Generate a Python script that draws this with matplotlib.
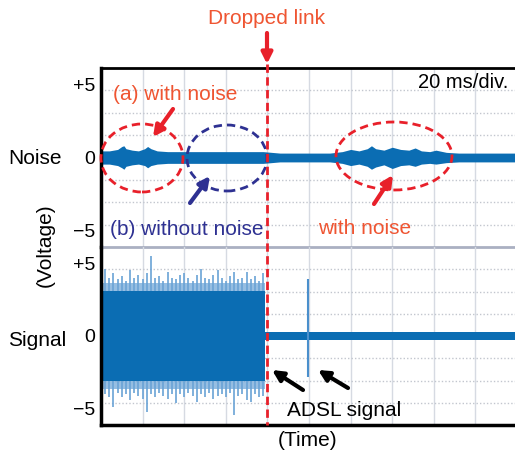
import matplotlib
matplotlib.use("Agg")
import matplotlib.pyplot as plt
from matplotlib.patches import Ellipse
from matplotlib.lines import Line2D
import numpy as np

plt.rcParams['font.family'] = ['Liberation Sans', 'DejaVu Sans']

### === Data (x in time divisions, y in volts) ===
drop_x = 3.95

# Noise channel envelope (half amplitude)
noise_x = [0.0, 0.2, 0.4, 0.5, 0.55, 0.6, 0.75, 0.9, 1.05, 1.12, 1.2, 1.35, 1.6, 2.0,
           2.5, 3.0, 3.5, 3.9, 4.3, 5.0, 5.5, 5.8, 6.0, 6.2, 6.4, 6.5, 6.6, 6.8, 7.0,
           7.2, 7.4, 7.55, 7.7, 7.9, 8.05, 8.3, 8.6, 9.0, 9.5, 9.95]
noise_hi = [0.45, 0.45, 0.55, 0.75, 0.8, 0.6, 0.5, 0.45, 0.6, 0.75, 0.6, 0.45, 0.4, 0.4,
            0.4, 0.4, 0.4, 0.4, 0.3, 0.3, 0.3, 0.4, 0.55, 0.45, 0.6, 0.8, 0.6, 0.5, 0.7,
            0.55, 0.5, 0.65, 0.45, 0.4, 0.5, 0.35, 0.3, 0.3, 0.3, 0.3]
noise_lo = [-0.45, -0.45, -0.55, -0.7, -0.8, -0.6, -0.5, -0.45, -0.55, -0.7, -0.55, -0.45,
            -0.4, -0.4, -0.4, -0.4, -0.4, -0.4, -0.3, -0.3, -0.3, -0.4, -0.55, -0.45,
            -0.6, -0.8, -0.65, -0.5, -0.75, -0.55, -0.5, -0.6, -0.45, -0.4, -0.45, -0.35,
            -0.3, -0.3, -0.3, -0.3]

# Signal channel: dense ADSL band before the drop, spike tips
tip_x = [0.0, 0.1, 0.2, 0.3, 0.4, 0.5, 0.6, 0.7, 0.8, 0.9, 1.0, 1.1, 1.2, 1.3, 1.4, 1.5,
         1.6, 1.7, 1.8, 1.9, 2.0, 2.1, 2.2, 2.3, 2.4, 2.5, 2.6, 2.7, 2.8, 2.9, 3.0, 3.1,
         3.2, 3.3, 3.4, 3.5, 3.6, 3.7, 3.8, 3.9]
tip_hi = [4.9, 4.6, 4.0, 4.3, 3.9, 4.1, 3.8, 4.5, 4.0, 4.2, 3.9, 4.3, 5.5, 4.0, 4.1, 3.8,
          4.4, 4.0, 3.9, 4.2, 4.3, 4.0, 3.8, 4.2, 4.6, 4.0, 3.9, 4.2, 4.5, 4.0, 3.8, 4.1,
          4.4, 3.9, 4.0, 4.4, 3.9, 4.1, 3.8, 4.3]
tip_lo = [-4.3, -4.0, -4.2, -4.9, -3.9, -4.2, -4.0, -4.4, -3.9, -4.1, -4.3, -5.2, -4.0,
          -4.2, -3.9, -4.1, -4.3, -4.0, -4.6, -4.0, -4.2, -3.9, -4.1, -4.5, -4.0, -4.2,
          -3.9, -4.3, -4.1, -4.0, -4.2, -3.9, -5.4, -4.1, -4.0, -4.4, -4.5, -4.0, -4.2,
          -4.1]
band_sig = 3.1
band_light = 3.6
after_band = 0.25
adsl_spike_x = 4.97
adsl_spike = (-2.8, 3.9)

### === Figure ===
W, H = 515, 457
fig = plt.figure(figsize=(W / 100, H / 100), dpi=100)

def fx(x):
    return x / W

def fy(y):
    return 1 - y / H

blue = "#0b6db3"
light = "#6aa3d6"
orange = "#ef5532"
red = "#e8202a"
navy = "#2e3192"

ylim = 6.1
xlim = 9.95
ax_n = fig.add_axes([fx(101), fy(247), fx(515) - fx(101), (247 - 68) / H])
ax_s = fig.add_axes([fx(101), fy(425), fx(515) - fx(101), (425 - 247) / H])

for ax in (ax_n, ax_s):
    ax.set_facecolor("none")
    ax.set_xlim(0, xlim)
    ax.set_ylim(-ylim, ylim)
    ax.set_xticks([])
    ax.set_yticks([-5, 0, 5])
    ax.set_yticklabels(["\u22125", "0", "+5"], fontsize=14)
    ax.tick_params(axis="y", length=0, pad=4)
    # scope graticule
    for gx in np.arange(1, 10):
        ax.axvline(gx, color="#d6dae2", lw=1, zorder=0)
    for gy in np.arange(-3, 4) * ylim / 4:
        ax.axhline(gy, color="#c2c6ce", lw=1, ls=(0, (1, 1.5)), zorder=0)
    ax.spines["right"].set_visible(False)
    ax.spines["left"].set_linewidth(2.5)

ax_n.spines["top"].set_linewidth(2)
ax_n.spines["bottom"].set_color("#aab0c2")
ax_n.spines["bottom"].set_linewidth(2)
ax_n.spines["bottom"].set_zorder(3)
ax_s.spines["top"].set_visible(False)
ax_s.spines["bottom"].set_linewidth(2.5)

# Noise trace
ax_n.fill_between(noise_x, noise_lo, noise_hi, color=blue, lw=0, zorder=2)

# Signal trace
ax_s.vlines(tip_x, 0, tip_hi, color=light, lw=1.2, zorder=1)
ax_s.vlines(tip_x, tip_lo, 0, color=light, lw=1.2, zorder=1)
ax_s.fill_between([0, drop_x], -band_light, band_light, color=light, alpha=0.7, lw=0, zorder=1)
ax_s.fill_between([0, drop_x], -band_sig, band_sig, color=blue, lw=0, zorder=2)
ax_s.fill_between([drop_x, xlim], -after_band, after_band, color=blue, lw=0, zorder=2)
ax_s.vlines(adsl_spike_x, *adsl_spike, color="#4a8fcc", lw=1.5, zorder=2)

# Dropped link marker
fig.add_artist(Line2D([fx(267), fx(267)], [fy(64), fy(425)], color=red, lw=2,
                      ls=(0, (3, 1.6))))
fig.text(fx(267), fy(18), "Dropped link", color=orange, fontsize=15, ha="center", va="center")

def arrow(x0, y0, x1, y1, color, lw=3):
    fig.add_artist(plt.Annotation("", xy=(fx(x1), fy(y1)), xytext=(fx(x0), fy(y0)),
                                  xycoords="figure fraction",
                                  arrowprops=dict(arrowstyle="-|>", color=color, lw=lw,
                                                  mutation_scale=16, shrinkA=0, shrinkB=0)))

arrow(267, 33, 267, 64, red)
arrow(173, 109, 153, 137, red)
arrow(190, 203, 210, 176, navy)
arrow(374, 204, 393, 175, red)
arrow(303, 390, 272, 370, "black")
arrow(348, 388, 318, 370, "black")

def ellipse(cx, cy, w, h, color):
    fig.add_artist(Ellipse((fx(cx), fy(cy)), w / W, h / H, transform=fig.transFigure,
                           fill=False, ec=color, lw=2, ls=(0, (3, 1.8))))

ellipse(142, 158, 82, 68, red)
ellipse(227, 158, 80, 66, navy)
ellipse(394, 156, 116, 68, red)

fig.text(fx(113), fy(94), "(a) with noise", color=orange, fontsize=15, va="center")
fig.text(fx(110), fy(230), "(b) without noise", color=navy, fontsize=15, va="center")
fig.text(fx(318), fy(229), "with noise", color=orange, fontsize=15, va="center")
fig.text(fx(287), fy(410), "ADSL signal", color="black", fontsize=15, va="center")
fig.text(fx(508), fy(83), "20 ms/div.", color="black", fontsize=14.5, ha="right", va="center")
fig.text(fx(8), fy(158), "Noise", fontsize=15, va="center")
fig.text(fx(8), fy(340), "Signal", fontsize=15, va="center")
fig.text(fx(45), fy(245), "(Voltage)", fontsize=15, rotation=90, ha="center", va="center")
fig.text(fx(308), fy(440), "(Time)", fontsize=15, ha="center", va="center")

fig.savefig("out.png", dpi=100)
